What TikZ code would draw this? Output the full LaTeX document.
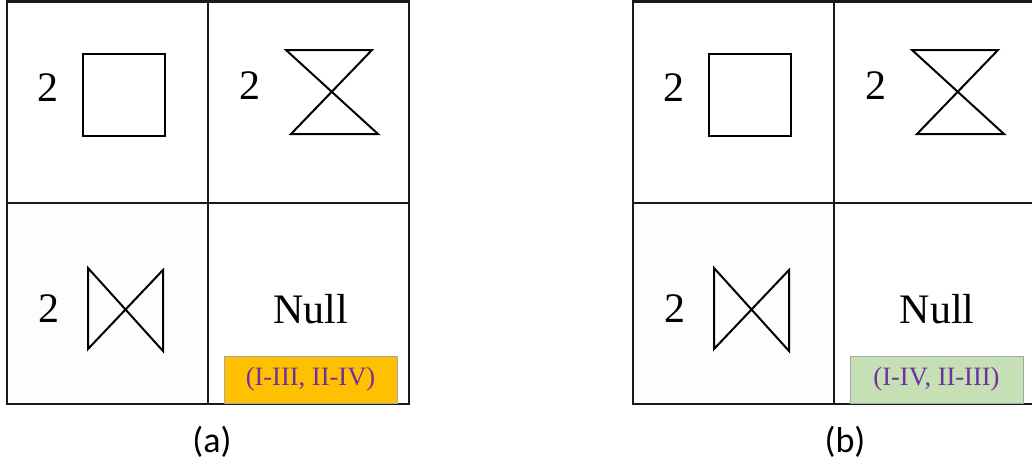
\documentclass[tikz,border=0pt]{standalone}
\usepackage{fontspec}
\setmainfont{Liberation Serif}
\newfontfamily\capfont{Carlito}
\definecolor{boxorange}{HTML}{FFC000}
\definecolor{boxgreen}{HTML}{C5E0B4}
\definecolor{labpurple}{HTML}{7030A0}
\definecolor{cellgray}{HTML}{FDFDFD}
\begin{document}
\begin{tikzpicture}[x=1pt,y=-1pt,
  gridline/.style={line width=2.6pt,draw=black!90},
  shp/.style={line width=2pt,line join=miter,draw=black},
  num/.style={font=\fontsize{42}{44}\selectfont,inner sep=0pt},
  nulltxt/.style={font=\fontsize{42}{44}\selectfont,inner sep=0pt},
  tagbox/.style={draw=black!35,line width=0.6pt,minimum width=173pt,minimum height=47pt,inner sep=0pt,
    text=labpurple,font=\fontsize{26.5}{28}\selectfont},
  captxt/.style={font=\capfont\fontsize{36}{38}\selectfont,inner sep=0pt}]
\useasboundingbox (0,0) rectangle (1032,469);
\foreach \p/\dx/\cap/\cx/\col/\txt in {a/0/(a)/212/boxorange/{(I-III, II-IV)},b/626/(b)/219/boxgreen/{(I-IV, II-III)}}{
\begin{scope}[xshift=\dx]
  \fill[cellgray] (7,203) rectangle (208,404);
  \draw[gridline] (7,1.5) rectangle (409,404);
  \draw[gridline] (208,1.5) -- (208,404);
  \draw[gridline] (7,203) -- (409,203);
  % cell I
  \node[num] (n1\p) at (48,88) {2};
  \draw[shp] (83,54) rectangle (165,136);
  % cell II
  \node[num] (n2\p) at (250,86) {2};
  \draw[shp] (286,50) -- (372,50) -- (291,134) -- (378,134) -- cycle;
  % cell III
  \node[num] (n3\p) at (49,309) {2};
  \draw[shp] (88,268) -- (163,351) -- (163,270) -- (88,349) -- cycle;
  % cell IV
  \node[nulltxt] (null\p) at (311,309) {Null};
  \node[tagbox,fill=\col] (tag\p) at (310.5,379.5) {\txt};
  \node[captxt] (cap\p) at (\cx,442) {\cap};
\end{scope}
}
\end{tikzpicture}
\end{document}
